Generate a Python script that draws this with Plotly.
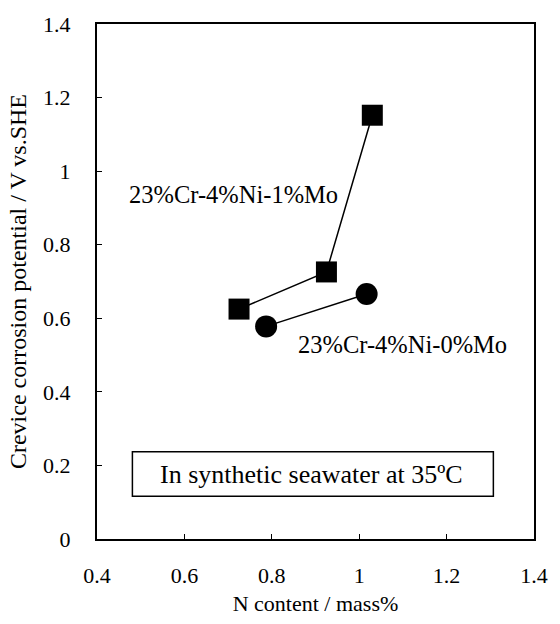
import plotly.graph_objects as go

# Data
mo1_n = [0.725, 0.925, 1.03]
mo1_e = [0.625, 0.726, 1.152]
mo0_n = [0.787, 1.017]
mo0_e = [0.578, 0.666]

x_ticks = [0.4, 0.6, 0.8, 1.0, 1.2, 1.4]
x_tick_text = ["0.4", "0.6", "0.8", "1", "1.2", "1.4"]
y_ticks = [0, 0.2, 0.4, 0.6, 0.8, 1.0, 1.2, 1.4]
y_tick_text = ["0", "0.2", "0.4", "0.6", "0.8", "1", "1.2", "1.4"]

FONT = "Liberation Serif"

fig = go.Figure()
fig.add_trace(go.Scatter(x=mo1_n, y=mo1_e, mode="lines+markers",
                         line=dict(color="black", width=1.5),
                         marker=dict(symbol="square", size=21, color="black"),
                         showlegend=False))
fig.add_trace(go.Scatter(x=mo0_n, y=mo0_e, mode="lines+markers",
                         line=dict(color="black", width=1.5),
                         marker=dict(symbol="circle", size=22, color="black"),
                         showlegend=False))

fig.add_shape(type="rect", x0=0.481, x1=1.307, y0=0.116, y1=0.237,
              xref="x", yref="y", line=dict(color="black", width=1.5),
              fillcolor="white", layer="below")

fig.add_annotation(x=0.89, y=0.176, text="In synthetic seawater at 35ºC",
                   showarrow=False, font=dict(family=FONT, size=26, color="black"),
                   xanchor="center", yanchor="middle")
fig.add_annotation(x=0.468, y=0.936, text="23%Cr-4%Ni-1%Mo",
                   showarrow=False, font=dict(family=FONT, size=24.5, color="black"),
                   xanchor="left", yanchor="middle")
fig.add_annotation(x=0.855, y=0.529, text="23%Cr-4%Ni-0%Mo",
                   showarrow=False, font=dict(family=FONT, size=24.5, color="black"),
                   xanchor="left", yanchor="middle")

fig.update_layout(
    width=560, height=624,
    margin=dict(l=97, r=21, t=24, b=81),
    paper_bgcolor="white", plot_bgcolor="white",
    font=dict(family=FONT, size=22, color="black"),
    xaxis=dict(range=[0.4, 1.4], tickvals=x_ticks, ticktext=x_tick_text,
               ticks="inside", ticklen=5, tickwidth=1, tickcolor="black",
               showline=True, linecolor="black", linewidth=2, mirror=True,
               showgrid=False, zeroline=False, ticklabelstandoff=16,
               tickfont=dict(family=FONT, size=22),
               title=dict(text="N content / mass%", font=dict(family=FONT, size=22), standoff=8)),
    yaxis=dict(range=[0, 1.4], tickvals=y_ticks, ticktext=y_tick_text,
               ticks="inside", ticklen=5, tickwidth=1, tickcolor="black",
               showline=True, linecolor="black", linewidth=2, mirror=True,
               showgrid=False, zeroline=False, ticklabelstandoff=20,
               tickfont=dict(family=FONT, size=22),
               title=dict(text="Crevice corrosion potential / V vs.SHE",
                          font=dict(family=FONT, size=24), standoff=10)),
)

fig.write_html("out.html", config={"displayModeBar": False},
               post_script="document.body.style.margin='0';document.body.style.overflow='hidden';")
